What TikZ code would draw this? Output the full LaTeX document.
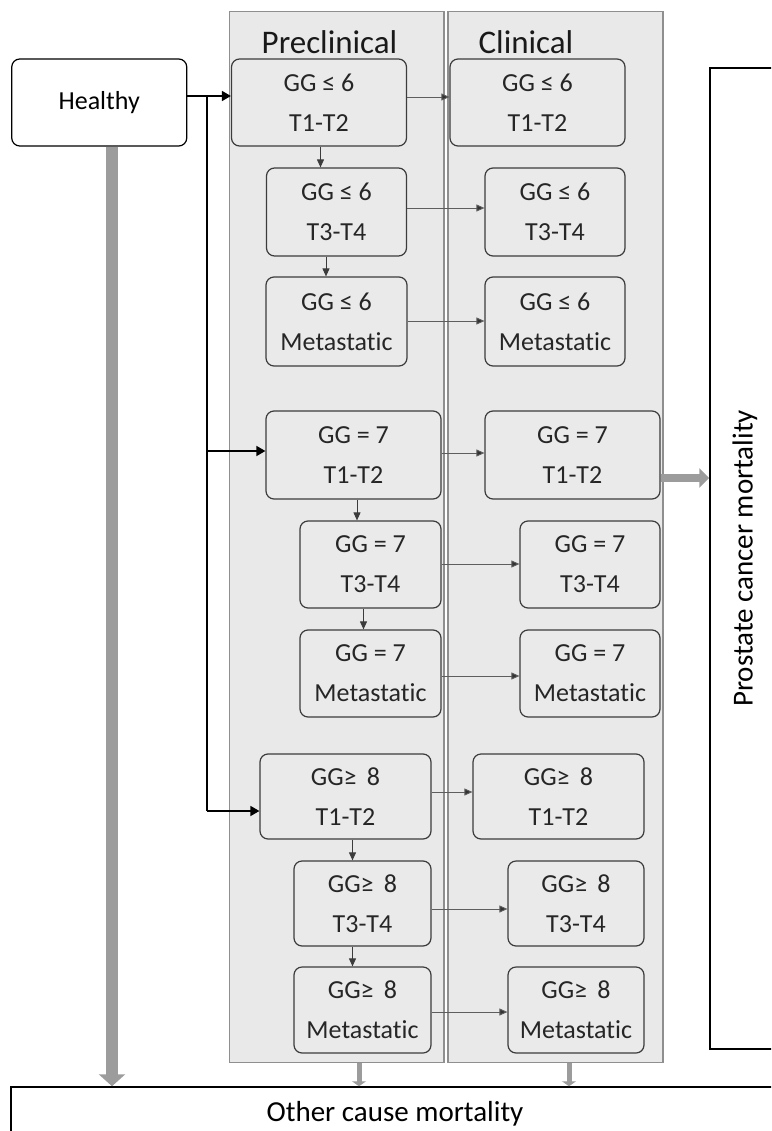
\documentclass[tikz,border=0pt]{standalone}
\usepackage{fontspec}
\setmainfont{Carlito}[Ligatures=NoCommon]
\usetikzlibrary{arrows.meta}
\definecolor{panelfill}{HTML}{E9E9E9}
\definecolor{paneldraw}{HTML}{8F8F8F}
\definecolor{boxfill}{HTML}{EAEAEA}
\definecolor{boxdraw}{HTML}{3C3C3C}
\definecolor{txt}{HTML}{262626}
\definecolor{thickgray}{HTML}{9C9C9C}
\definecolor{thingray}{HTML}{5E5E5E}
\begin{document}
\begin{tikzpicture}[x=1pt,y=-1pt,
 panel/.style={draw=paneldraw,fill=panelfill,line width=1.6pt,inner sep=0pt},
 stage/.style={draw=boxdraw,fill=boxfill,line width=1.2pt,rounded corners=8pt,align=center,text=txt,font=\fontsize{26}{40}\selectfont,inner sep=0pt},
 healthybox/.style={draw=black,fill=white,line width=1.2pt,rounded corners=8pt,font=\fontsize{26}{30}\selectfont,inner sep=0pt,minimum width=175,minimum height=87},
 outcome/.style={draw=black,fill=white,line width=1.5pt,inner sep=0pt},
 title/.style={font=\fontsize{33}{38}\selectfont,text=black!90},
 otext/.style={font=\fontsize{29}{34}\selectfont,text=black},
 thinarr/.style={draw=thingray,line width=0.9pt,-{Triangle[length=8pt,width=7pt,fill=black!80]}},
 downarr/.style={draw=boxdraw,line width=0.9pt,-{Triangle[length=8pt,width=7pt]}},
 blkline/.style={draw=black,line width=1.5pt},
 blkarr/.style={draw=black,line width=1.5pt,-{Triangle[length=9pt,width=10pt]}},
 bigarr/.style={draw=thickgray,line width=12pt,-{Triangle[length=12pt,width=26pt]}},
 midarr/.style={draw=thickgray,line width=8pt,-{Triangle[length=10pt,width=19pt]}},
 smallarr/.style={draw=thickgray,line width=5pt,-{Triangle[length=5pt,width=14pt]}}
]
\useasboundingbox (0,0) rectangle (771,1131);
\clip (0,0) rectangle (771,1131);

% panels
\node[panel,minimum width=214.5,minimum height=1051] (pre) at (336.75,537) {};
\node[panel,minimum width=215,minimum height=1051] (cli) at (555.5,537) {};
\node[title] (pretitle) at (329.5,42) {Preclinical};
\node[title] (clititle) at (526,42) {Clinical};

% outcome boxes
\node[outcome,minimum width=70,minimum height=981] (pcm) at (745,558.5) {};
\node[otext,rotate=90] (pcmtext) at (pcm.center) {Prostate cancer mortality};
\node[outcome,minimum width=768,minimum height=54,otext] (other) at (395,1114) {Other cause mortality};

% healthy
\node[healthybox] (healthy) at (99.25,102.5) {Healthy};

% preclinical stages
\node[stage,minimum width=175,minimum height=87] (p61) at (319,102.5) {GG ≤ 6\\T1-T2};
\node[stage,minimum width=140,minimum height=88] (p62) at (336.5,212) {GG ≤ 6\\T3-T4};
\node[stage,minimum width=141,minimum height=89] (p63) at (336.5,321.5) {GG ≤ 6\\Metastatic};
\node[stage,minimum width=175,minimum height=88] (p71) at (353.5,455) {GG = 7\\T1-T2};
\node[stage,minimum width=141,minimum height=87] (p72) at (370.5,564.5) {GG = 7\\T3-T4};
\node[stage,minimum width=141,minimum height=87] (p73) at (370.5,673.5) {GG = 7\\Metastatic};
\node[stage,minimum width=171,minimum height=85] (p81) at (345.5,796.5) {GG≥\, 8\\T1-T2};
\node[stage,minimum width=137,minimum height=85] (p82) at (362.5,903.5) {GG≥\, 8\\T3-T4};
\node[stage,minimum width=137,minimum height=86] (p83) at (362.5,1010) {GG≥\, 8\\Metastatic};

% clinical stages
\node[stage,minimum width=175,minimum height=87] (c61) at (537.5,102.5) {GG ≤ 6\\T1-T2};
\node[stage,minimum width=140,minimum height=88] (c62) at (555,212) {GG ≤ 6\\T3-T4};
\node[stage,minimum width=140,minimum height=89] (c63) at (555,321.5) {GG ≤ 6\\Metastatic};
\node[stage,minimum width=175,minimum height=88] (c71) at (572.5,455) {GG = 7\\T1-T2};
\node[stage,minimum width=140,minimum height=87] (c72) at (590,564.5) {GG = 7\\T3-T4};
\node[stage,minimum width=140,minimum height=87] (c73) at (590,673.5) {GG = 7\\Metastatic};
\node[stage,minimum width=171,minimum height=85] (c81) at (558.5,796.5) {GG≥\, 8\\T1-T2};
\node[stage,minimum width=136,minimum height=85] (c82) at (576,903.5) {GG≥\, 8\\T3-T4};
\node[stage,minimum width=136,minimum height=86] (c83) at (576,1010) {GG≥\, 8\\Metastatic};

% healthy connectors
\coordinate (jtop) at ([yshift=6.5pt]healthy.east -| 207,0);
\coordinate (jmid) at ([yshift=4pt]p71.west -| 207,0);
\coordinate (jbot) at ([yshift=-14.5pt]p81.west -| 207,0);
\draw[blkarr] ([yshift=6.5pt]healthy.east) -- ([yshift=6.5pt]healthy.east -| p61.west);
\draw[blkline] (jtop) -- (jbot);
\draw[blkarr] (jmid) -- (jmid -| p71.west);
\draw[blkarr] (jbot) -- (jbot -| p81.west);

% preclinical -> clinical
\draw[thinarr] ([yshift=5.5pt]p61.east) -- ([yshift=5.5pt]c61.west);
\draw[thinarr] ([yshift=4pt]p62.east) -- ([yshift=4pt]c62.west);
\draw[thinarr] ([yshift=0.5pt]p63.east) -- ([yshift=0.5pt]c63.west);
\draw[thinarr] ([yshift=2pt]p71.east) -- ([yshift=2pt]c71.west);
\draw[thinarr] ([yshift=0.5pt]p72.east) -- ([yshift=0.5pt]c72.west);
\draw[thinarr] ([yshift=-2.5pt]p73.east) -- ([yshift=-2.5pt]c73.west);
\draw[thinarr] ([yshift=4.5pt]p81.east) -- ([yshift=4.5pt]c81.west);
\draw[thinarr] ([yshift=-5.5pt]p82.east) -- ([yshift=-5.5pt]c82.west);
\draw[thinarr] ([yshift=-2pt]p83.east) -- ([yshift=-2pt]c83.west);

% progression within preclinical
\draw[downarr] ([xshift=1.5pt]p61.south) -- ([xshift=1.5pt]p61.south |- p62.north);
\draw[downarr] ([xshift=-10.5pt]p62.south) -- ([xshift=-10.5pt]p62.south |- p63.north);
\draw[downarr] ([xshift=3.5pt]p71.south) -- ([xshift=3.5pt]p71.south |- p72.north);
\draw[downarr] ([xshift=-7pt]p72.south) -- ([xshift=-7pt]p72.south |- p73.north);
\draw[downarr] ([xshift=7pt]p81.south) -- ([xshift=7pt]p81.south |- p82.north);
\draw[downarr] ([xshift=-10pt]p82.south) -- ([xshift=-10pt]p82.south |- p83.north);

% mortality arrows
\draw[bigarr] ([xshift=12.75pt]healthy.south) -- ([xshift=12.75pt]healthy.south |- other.north);
\draw[midarr] ([yshift=-23pt]c71.east) -- ([yshift=-23pt]c71.east -| pcm.west);
\draw[smallarr] ([xshift=22.25pt]pre.south) -- ([xshift=22.25pt]pre.south |- other.north);
\draw[smallarr] ([xshift=13.5pt]cli.south) -- ([xshift=13.5pt]cli.south |- other.north);
\end{tikzpicture}
\end{document}
